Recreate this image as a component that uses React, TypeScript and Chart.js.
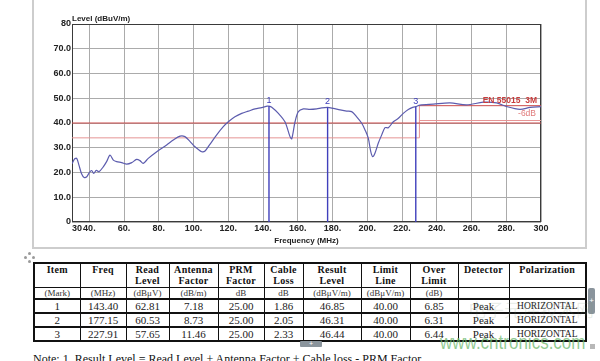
import React, { useEffect, useRef } from "react";
import { Chart, registerables } from "chart.js";

Chart.register(...registerables);

// ---- chart data ----
const traceFreq = [
  30, 31.5, 32.7, 34, 35.5, 37, 38.5, 40, 41.3, 42.5, 44, 45.5, 48, 50, 51.9, 53.8, 55.7, 58.6,
  61.5, 64.4, 67.2, 69.1, 71, 73.9, 78.8, 84.5, 88.3, 92.2, 95, 97.9, 100.8, 104.7, 106.6,
  109.4, 113.3, 117.1, 120, 123.8, 127.7, 131.5, 135.4, 139.2, 142.4, 143.4, 145, 148.8,
  152.6, 155.5, 156.5, 158.4, 160.3, 163.2, 167, 170.9, 173.7, 177.15, 180.4, 184.3, 188.1,
  191, 193.9, 196.8, 198.7, 200.6, 202, 203.1, 204.4, 206.3, 208.3, 210.2, 212.1, 215, 217.9,
  220.7, 223.6, 226.5, 227.91, 230.3, 238, 247.6, 257.2, 266.8, 274.5, 280.3, 287.9, 293.7, 300,
];
const traceLevel = [
  23.5, 25.5, 25.7, 23, 19.5, 18, 18.3, 20, 20.8, 19.6, 20.9, 20.3, 22.3, 24.5, 27, 25, 24.4, 24,
  23.4, 24, 25.3, 24.8, 23.7, 25.7, 28.4, 31.1, 33.1, 34.7, 34.5, 32.6, 30.4, 28.4, 28.7,
  31.4, 35.2, 38.5, 40.5, 42.5, 43.9, 44.8, 45.7, 46.2, 46.8, 46.85, 46.4, 43.9,
  40.5, 34.5, 33.6, 40.5, 44.6, 45.7, 45.5, 45.7, 46.1, 46.31, 45.9, 45.3, 44.8,
  44.6, 42.5, 39.9, 37.2, 33.8, 28.4, 26.4, 27.8, 31.8, 35.2, 38.1, 38.1, 40.5, 41.9,
  43.9, 45.5, 46.4, 46.6, 47.2, 47.6, 48.1, 47.3, 48.4, 48.1, 46.6, 45.5, 46.3, 46.6,
];

const markerNames = ["1", "2", "3"];
const markerFreq = [143.4, 177.15, 227.91];
const markerLevel = [46.85, 46.31, 46.44];

const limitFreq = [30, 300];
const limitLevel = [40, 40];
const limitHighFreq = [230, 300];
const limitHighLevel = [47, 47];
const marginFreq = [30, 230, 230];
const marginLevel = [34, 34, 47];
const marginHighFreq = [230, 300];
const marginHighLevel = [41, 41];

const xTickValues = [30, 40, 60, 80, 100, 120, 140, 160, 180, 200, 220, 240, 260, 280, 300];
const yTickValues = [0, 10, 20, 30, 40, 50, 60, 70, 80];

// ---- table data ----
const tableHeaders = ["Item", "Freq", "Read<br>Level", "Antenna<br>Factor", "PRM<br>Factor", "Cable<br>Loss", "Result<br>Level", "Limit<br>Line", "Over<br>Limit", "Detector", "Polarization"];
const tableUnits = ["(Mark)", "(MHz)", "(dBμV)", "(dB/m)", "dB", "dB", "(dBμV/m)", "(dBμV/m)", "(dB)", "", ""];
const itemCol = ["1", "2", "3"];
const freqCol = ["143.40", "177.15", "227.91"];
const readLevelCol = ["62.81", "60.53", "57.65"];
const antennaCol = ["7.18", "8.73", "11.46"];
const prmCol = ["25.00", "25.00", "25.00"];
const cableCol = ["1.86", "2.05", "2.33"];
const resultCol = ["46.85", "46.31", "46.44"];
const limitCol = ["40.00", "40.00", "40.00"];
const overCol = ["6.85", "6.31", "6.44"];
const detectorCol = ["Peak", "Peak", "Peak"];
const polarizationCol = ["HORIZONTAL", "HORIZONTAL", "HORIZONTAL"];
const colWidths = [46, 46, 43, 49, 46, 39, 58, 49, 48, 51, 77];

const toXY = (xs: number[], ys: number[]) => xs.map((x, i) => ({ x, y: ys[i] }));

const SANS = "Arial, 'Liberation Sans', sans-serif";
const SERIF = "'Liberation Serif', 'Times New Roman', serif";

const overlayPlugin = {
  id: "overlay",
  beforeDatasetsDraw(chart: any) {
    const { ctx, chartArea: a } = chart;
    ctx.save();
    ctx.strokeStyle = "#3a3a3a";
    ctx.lineWidth = 1;
    ctx.strokeRect(a.left + 0.5, a.top + 0.5, a.right - a.left - 1, a.bottom - a.top - 1);
    ctx.restore();
  },
  afterDatasetsDraw(chart: any) {
    const { ctx, chartArea: a, scales } = chart;
    const xs = scales.x;
    const ys = scales.y;
    ctx.save();
    ctx.textBaseline = "bottom";
    ctx.fillStyle = "#222";
    ctx.font = `bold 8px ${SANS}`;
    ctx.textAlign = "left";
    ctx.fillText("Level (dBuV/m)", a.left, a.top - 1);

    ctx.font = `9px ${SANS}`;
    ctx.fillStyle = "#3b3bb8";
    ctx.textAlign = "center";
    markerNames.forEach((n, i) => {
      ctx.fillText(n, xs.getPixelForValue(markerFreq[i]), ys.getPixelForValue(markerLevel[i]) - 1);
    });

    ctx.textAlign = "right";
    ctx.font = `bold 8.5px ${SANS}`;
    ctx.fillStyle = "#c83c3c";
    ctx.fillText("EN 55015  3M", a.right - 4, ys.getPixelForValue(limitHighLevel[0]) - 1);
    ctx.font = `8.5px ${SANS}`;
    ctx.fillStyle = "#e07a7a";
    ctx.fillText("-6dB", a.right - 5, ys.getPixelForValue(marginHighLevel[0]) - 3);
    ctx.restore();
  },
};

function EmiChart() {
  const ref = useRef<HTMLCanvasElement | null>(null);
  useEffect(() => {
    if (!ref.current) return;
    const red = "#cc4a4a";
    const pink = "#e69494";
    const chart = new Chart(ref.current, {
      type: "line",
      data: {
        datasets: [
          ...markerFreq.map((f, i) => ({
            label: "Marker " + markerNames[i],
            data: toXY([f, f], [0, markerLevel[i]]),
            borderColor: "#4040bc",
            borderWidth: 1.4,
            pointRadius: 0,
            tension: 0,
          })),
          {
            label: "Level",
            data: toXY(traceFreq, traceLevel),
            borderColor: "#5c5cae",
            borderWidth: 1.2,
            pointRadius: 0,
            tension: 0.3,
          },
          { label: "Limit", data: toXY(limitFreq, limitLevel), borderColor: red, borderWidth: 1, pointRadius: 0, tension: 0 },
          { label: "Limit high", data: toXY(limitHighFreq, limitHighLevel), borderColor: red, borderWidth: 1, pointRadius: 0, tension: 0 },
          { label: "Margin", data: toXY(marginFreq, marginLevel), borderColor: pink, borderWidth: 1, pointRadius: 0, tension: 0 },
          { label: "Margin high", data: toXY(marginHighFreq, marginHighLevel), borderColor: pink, borderWidth: 1, pointRadius: 0, tension: 0 },
        ],
      },
      options: {
        animation: false,
        responsive: false,
        devicePixelRatio: 1,
        layout: { padding: { left: 0, right: 59, top: 24, bottom: 0 } },
        plugins: { legend: { display: false }, tooltip: { enabled: false } },
        scales: {
          x: {
            type: "linear",
            min: 30,
            max: 300,
            afterBuildTicks: (s: any) => {
              s.ticks = xTickValues.map((v) => ({ value: v }));
            },
            afterFit: (s: any) => {
              s.height = 28;
            },
            grid: { color: "#ababab", lineWidth: 1, drawTicks: false },
            border: { display: false },
            ticks: {
              autoSkip: false,
              maxRotation: 0,
              minRotation: 0,
              padding: 1,
              color: "#222",
              font: { family: SANS, size: 9, weight: "bold" },
              callback: (v: any) => (v === 30 ? "    30" : v === 300 ? "300" : v + "."),
            },
            title: {
              display: true,
              text: "Frequency (MHz)",
              color: "#222",
              font: { family: SANS, size: 8, weight: "bold" },
              padding: { top: 0, bottom: 4.5 },
            },
          },
          y: {
            type: "linear",
            min: 0,
            max: 80,
            afterBuildTicks: (s: any) => {
              s.ticks = yTickValues.map((v) => ({ value: v }));
            },
            afterFit: (s: any) => {
              s.width = 72;
            },
            grid: { color: "#ababab", lineWidth: 1, drawTicks: false },
            border: { display: false },
            ticks: {
              padding: 1,
              color: "#222",
              font: { family: SANS, size: 9, weight: "bold" },
              callback: (v: any) => (v === 0 ? "0" : v === 80 ? "80" : Number(v).toFixed(1)),
            },
          },
        },
      } as any,
      plugins: [overlayPlugin],
    });
    return () => chart.destroy();
  }, []);
  return (
    <canvas
      ref={ref}
      width={600}
      height={250}
      style={{ position: "absolute", left: 0, top: 0, width: 600, height: 250 }}
    />
  );
}

const rowsData = itemCol.map((_, i) => [
  itemCol[i], freqCol[i], readLevelCol[i], antennaCol[i], prmCol[i], cableCol[i],
  resultCol[i], limitCol[i], overCol[i], detectorCol[i], polarizationCol[i],
]);

export default function App() {
  const cellBase: React.CSSProperties = {
    border: "1px solid #111",
    padding: 0,
    textAlign: "center",
    overflow: "hidden",
    whiteSpace: "nowrap",
  };
  const dot = (l: number, t: number) => (
    <div style={{ position: "absolute", left: l, top: t, width: 3, height: 3, borderRadius: 2, background: "#9a9a9a" }} />
  );
  return (
    <div
      style={{
        position: "fixed",
        left: 0,
        top: 0,
        width: 600,
        height: 361,
        overflow: "hidden",
        background: "#fff",
      }}
    >
      <div
        style={{
          position: "absolute",
          left: 32,
          top: -10,
          width: 555,
          height: 259,
          boxSizing: "border-box",
          borderLeft: "2px solid #cdcdcd",
          borderRight: "2px solid #cdcdcd",
          borderBottom: "2px solid #cdcdcd",
        }}
      />
      <EmiChart />
      {dot(28, 252)}
      {dot(24, 256)}
      {dot(32, 256)}
      {dot(28, 260)}
      <table
        style={{
          position: "absolute",
          left: 33,
          top: 262,
          width: 552,
          borderCollapse: "collapse",
          tableLayout: "fixed",
          fontFamily: SERIF,
          color: "#111",
          border: "2px solid #111",
        }}
      >
        <colgroup>
          {colWidths.map((w, i) => (
            <col key={i} style={{ width: w }} />
          ))}
        </colgroup>
        <tbody>
          <tr style={{ height: 24 }}>
            {tableHeaders.map((h, i) => (
              <td
                key={i}
                style={{ ...cellBase, verticalAlign: "top", fontWeight: "bold", fontSize: 10, lineHeight: "10.5px", paddingTop: 1, letterSpacing: 0.3 }}
                dangerouslySetInnerHTML={{ __html: h }}
              />
            ))}
          </tr>
          <tr style={{ height: 12 }}>
            {tableUnits.map((u, i) => (
              <td key={i} style={{ ...cellBase, borderBottom: "2px solid #111", fontSize: 9, lineHeight: "10px", color: "#333" }}>
                {u}
              </td>
            ))}
          </tr>
          {rowsData.map((r, ri) => (
            <tr key={ri} style={{ height: 13 }}>
              {r.map((c, ci) => (
                <td
                  key={ci}
                  style={{
                    ...cellBase,
                    borderBottom: ri < 2 ? "2px solid #111" : "1px solid #111",
                    fontSize: ci === 10 ? 9.5 : 11,
                    lineHeight: "12px",
                    color: "#222",
                  }}
                >
                  {c}
                </td>
              ))}
            </tr>
          ))}
        </tbody>
      </table>
      <div
        style={{
          position: "absolute",
          left: 300,
          top: 341,
          width: 22,
          height: 6,
          background: "#8a949c",
          borderRadius: 1,
          color: "#fff",
          fontSize: 7,
          lineHeight: "6px",
          textAlign: "center",
          fontFamily: SANS,
        }}
      >
        +
      </div>
      <div
        style={{
          position: "absolute",
          left: 588,
          top: 288,
          width: 7,
          height: 26,
          background: "#8a949c",
          borderRadius: 2,
          color: "#fff",
          fontSize: 8,
          lineHeight: "26px",
          textAlign: "center",
          fontFamily: SANS,
        }}
      >
        +
      </div>
      <div style={{ position: "absolute", left: 590, top: 344, width: 5, height: 5, background: "#b8b8b8" }} />
      <div
        style={{
          position: "absolute",
          left: 468,
          top: 296,
          fontFamily: "'Noto Sans CJK SC', sans-serif",
          fontSize: 18,
          color: "rgba(120,150,120,0.16)",
          whiteSpace: "nowrap",
        }}
      >
        电子元件技术网
      </div>
      <div
        style={{
          position: "absolute",
          left: 440,
          top: 332,
          fontFamily: SANS,
          fontSize: 17,
          color: "rgba(110,185,110,0.75)",
          whiteSpace: "nowrap",
          transform: "scaleY(1.15)",
          transformOrigin: "left top",
        }}
      >
        www.cntronics.com
      </div>
      <div
        style={{
          position: "absolute",
          left: 33,
          top: 352,
          fontFamily: SERIF,
          fontSize: 12,
          lineHeight: "14px",
          color: "#111",
          whiteSpace: "nowrap",
        }}
      >
        Note: 1. Result Level = Read Level + Antenna Factor + Cable loss - PRM Factor
      </div>
    </div>
  );
}
